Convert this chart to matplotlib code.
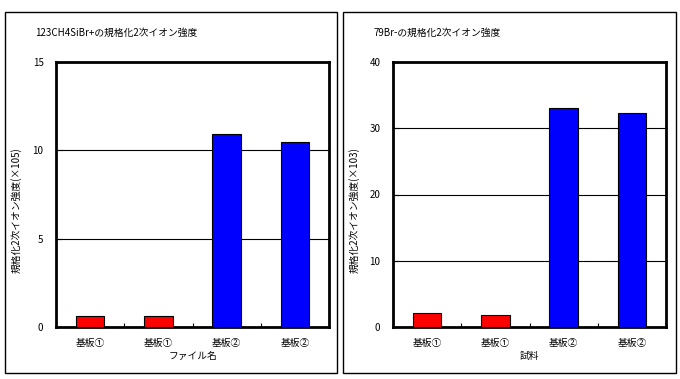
import matplotlib
matplotlib.use('Agg')
import matplotlib.pyplot as plt
from matplotlib.patches import Rectangle

plt.rcParams['font.family'] = ['Noto Sans CJK JP', 'DejaVu Sans']
plt.rcParams['font.size'] = 7

# data
labels = ['基板①', '基板①', '基板②', '基板②']
colors = ['#ff0000', '#ff0000', '#0000ff', '#0000ff']
left_vals = [0.6, 0.65, 10.9, 10.45]
right_vals = [2.1, 1.8, 33.0, 32.3]

W, H = 680, 379
fig = plt.figure(figsize=(W / 100, H / 100), dpi=100)


def fx(px):
    return px / W


def fy(py):
    return 1 - py / H


def panel(x0, x1, ax_x0, ax_x1, vals, ymax, step, title, ylabel, xlabel):
    # outer frame
    fig.add_artist(Rectangle((fx(x0), fy(373)), fx(x1) - fx(x0), fy(12) - fy(373),
                             transform=fig.transFigure, fill=False, lw=1.0,
                             edgecolor='black'))
    ax = fig.add_axes([fx(ax_x0), fy(327), fx(ax_x1) - fx(ax_x0), fy(62) - fy(327)])
    x = range(len(vals))
    ax.bar(x, vals, width=0.42, color=colors, edgecolor='black', linewidth=0.8, zorder=3)
    ax.set_xlim(-0.5, len(vals) - 0.5)
    ax.set_ylim(0, ymax)
    ax.set_yticks(range(0, ymax + 1, step))
    ax.yaxis.grid(True, color='black', lw=0.8, zorder=0)
    ax.set_xticks(x)
    ax.set_xticklabels(labels)
    ax.set_xticks([0.5, 1.5, 2.5], minor=True)
    ax.tick_params(axis='x', which='major', length=0, pad=8)
    ax.tick_params(axis='x', which='minor', direction='in', length=3, width=0.8)
    ax.tick_params(axis='y', direction='in', length=4, width=0.8, pad=9)
    for s in ax.spines.values():
        s.set_linewidth(2)
    ax.set_ylabel(ylabel)
    ax.yaxis.set_label_coords(fx(x0 + 17), fy(210), transform=fig.transFigure)
    ax.set_xlabel(xlabel, labelpad=2)
    fig.text(fx(x0 + 30), fy(33), title, va='center', ha='left')
    return ax


panel(5, 337, 56, 329, left_vals, 15, 5,
      '123CH4SiBr+の規格化2次イオン強度', '規格化2次イオン強度(×105)', 'ファイル名')
panel(343, 676, 393, 666, right_vals, 40, 10,
      '79Br-の規格化2次イオン強度', '規格化2次イオン強度(×103)', '試料')

fig.savefig('out.png', dpi=100)
